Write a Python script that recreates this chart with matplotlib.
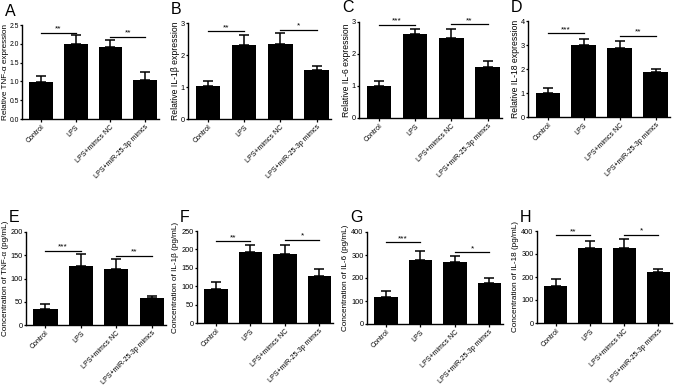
import matplotlib.pyplot as plt

plt.rcParams['font.family'] = ['Liberation Sans', 'DejaVu Sans']

groups = ['Control', 'LPS', 'LPS+mimcs NC', 'LPS+miR-25-3p mimcs']

# top row: relative mRNA expression
tnf_rel = [0.99, 1.99, 1.91, 1.05]
tnf_rel_err = [0.16, 0.24, 0.18, 0.19]
il1b_rel = [1.03, 2.30, 2.34, 1.53]
il1b_rel_err = [0.16, 0.34, 0.36, 0.13]
il6_rel = [1.00, 2.61, 2.51, 1.60]
il6_rel_err = [0.16, 0.17, 0.27, 0.17]
il18_rel = [1.02, 3.02, 2.88, 1.88]
il18_rel_err = [0.17, 0.25, 0.29, 0.12]

# bottom row: concentration (pg/mL)
tnf_conc = [34.5, 126.6, 120.9, 57.6]
tnf_conc_err = [10.1, 25.2, 20.8, 5.7]
il1b_conc = [91.7, 193.3, 188.8, 128.6]
il1b_conc_err = [20.7, 18.9, 23.4, 17.1]
il6_conc = [119, 279, 268, 180]
il6_conc_err = [26, 37, 27, 18]
il18_conc = [160, 327, 324, 222]
il18_conc_err = [33, 31, 43, 14]

# significance: (bar i, bar j, line height, stars)
tnf_rel_sig = [(0, 1, 2.30, '**'), (2, 3, 2.19, '**')]
il1b_rel_sig = [(0, 1, 2.74, '**'), (2, 3, 2.79, '*')]
il6_rel_sig = [(0, 1, 2.92, '***'), (2, 3, 2.93, '**')]
il18_rel_sig = [(0, 1, 3.48, '***'), (2, 3, 3.39, '**')]
tnf_conc_sig = [(0, 1, 159.7, '***'), (2, 3, 148.9, '**')]
il1b_conc_sig = [(0, 1, 222, '**'), (2, 3, 226.6, '*')]
il6_conc_sig = [(0, 1, 356, '***'), (2, 3, 313, '*')]
il18_conc_sig = [(0, 1, 383, '**'), (2, 3, 384, '*')]

W, H = 676, 386

# letter, values, errs, sig, ylabel, ymax, yticks, ticklabels,
# pixel box (left, right, top, bottom), ylabel offset in px
panels = [
    ('A', tnf_rel, tnf_rel_err, tnf_rel_sig, 'Relative TNF-α expression', 2.5,
     [0, 0.5, 1.0, 1.5, 2.0, 2.5], ['0.0', '0.5', '1.0', '1.5', '2.0', '2.5'], (22, 159, 25, 119), 13),
    ('B', il1b_rel, il1b_rel_err, il1b_rel_sig, 'Relative IL-1β expression', 3,
     [0, 1, 2, 3], None, (188, 331, 23, 119), 8),
    ('C', il6_rel, il6_rel_err, il6_rel_sig, 'Relative IL-6 expression', 3,
     [0, 1, 2, 3], None, (359, 502, 22, 118), 8),
    ('D', il18_rel, il18_rel_err, il18_rel_sig, 'Relative IL-18 expression', 4,
     [0, 1, 2, 3, 4], None, (528, 670, 21, 117), 8),
    ('E', tnf_conc, tnf_conc_err, tnf_conc_sig, 'Concentration of TNF-α (pg/mL)', 200,
     [0, 50, 100, 150, 200], None, (26, 166, 232, 325), 17),
    ('F', il1b_conc, il1b_conc_err, il1b_conc_sig, 'Concentration of IL-1β (pg/mL)', 250,
     [0, 50, 100, 150, 200, 250], None, (197, 333, 231, 323), 18),
    ('G', il6_conc, il6_conc_err, il6_conc_sig, 'Concentration of IL-6 (pg/mL)', 400,
     [0, 100, 200, 300, 400], None, (367, 503, 232, 324), 18),
    ('H', il18_conc, il18_conc_err, il18_conc_sig, 'Concentration of IL-18 (pg/mL)', 400,
     [0, 100, 200, 300, 400], None, (537, 672, 231, 323), 18),
]

fig = plt.figure(figsize=(W / 100, H / 100), dpi=100)

x = list(range(len(groups)))
for letter, vals, errs, sig, ylab, ymax, yt, ytl, box, lab_off in panels:
    l, r, t, b = box
    ax = fig.add_axes([l / W, 1 - b / H, (r - l) / W, (b - t) / H])
    ax.bar(x, vals, width=0.68, color='black', zorder=2)
    ax.errorbar(x, vals, yerr=[[0] * 4, errs], fmt='none', ecolor='black',
                elinewidth=1.1, capsize=3.6, capthick=1.1, zorder=1)
    for i, j, h, s in sig:
        ax.plot([i, j], [h, h], color='black', lw=0.9, clip_on=False)
        ax.text((i + j) / 2, h, s, ha='center', va='bottom', fontsize=6,
                clip_on=False)
    ax.set_xlim(-0.55, 3.4)
    ax.set_ylim(0, ymax)
    ax.set_yticks(yt)
    if ytl is not None:
        ax.set_yticklabels(ytl)
    ax.set_xticks(x)
    ax.set_xticklabels(groups, rotation=45, ha='right', rotation_mode='anchor',
                       fontsize=5.0)
    ax.tick_params(axis='y', labelsize=4.9 if letter == 'A' else 5.3,
                   length=1.8, width=0.9, pad=0.6)
    ax.tick_params(axis='x', length=2.2, width=0.9, pad=1.2)
    ax.set_ylabel(ylab, fontsize=5.9 if letter == 'A' else (6.2 if letter in 'BCD' else 5.9))
    ax.yaxis.set_label_coords(-lab_off / (r - l), 0.5)
    for sp in ['top', 'right']:
        ax.spines[sp].set_visible(False)
    for sp in ['left', 'bottom']:
        ax.spines[sp].set_linewidth(1.0)
    fig.text((l - 17) / W, 1 - (t - 14) / H, letter, fontsize=11.5,
             ha='left', va='center')

fig.savefig('out.png', dpi=100)
